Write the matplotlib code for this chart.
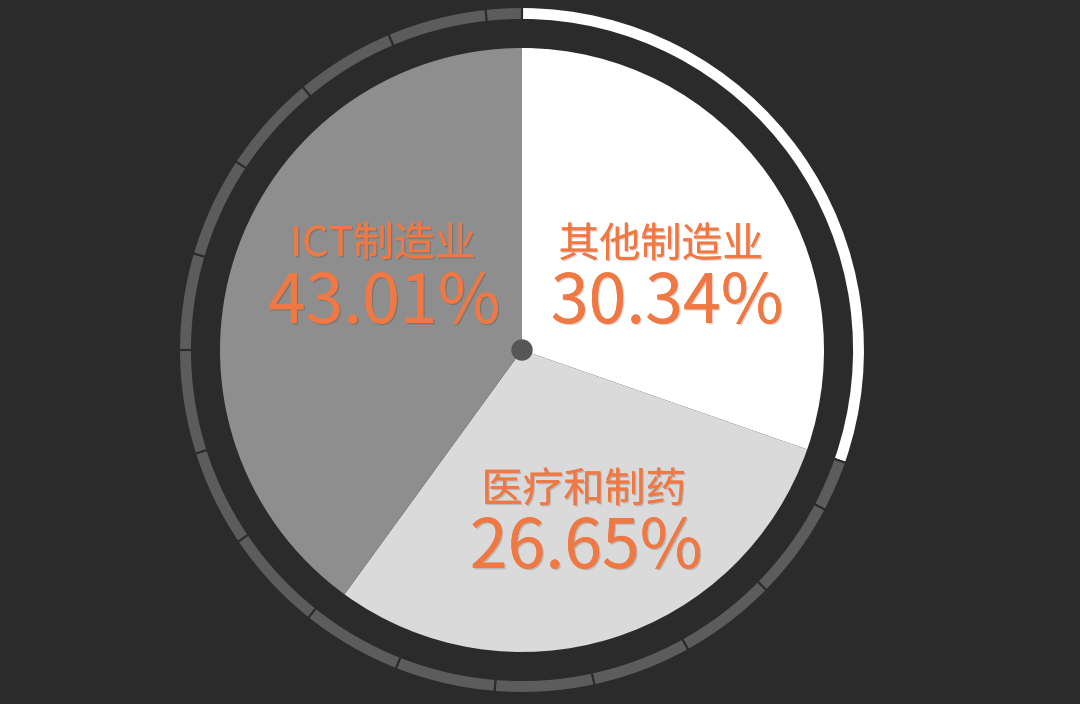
import matplotlib
matplotlib.use("Agg")
import matplotlib.pyplot as plt
import matplotlib.patheffects as pe

plt.rcParams['font.family'] = ['Noto Sans CJK SC', 'DejaVu Sans']

# labels and shares as printed on the chart
names = ['其他制造业', '医疗和制药', 'ICT制造业']
pct_labels = ['30.34%', '26.65%', '43.01%']
# slice sizes as drawn in the picture (clockwise from 12 o'clock)
drawn_share = [30.34, 29.66, 40.0]
slice_colors = ['#ffffff', '#dadada', '#8e8e8e']

# outer ring: white progress arc, then grey segments split at these angles (deg, clockwise from top)
progress = 30.34
ring_gaps = [117.8, 134.5, 151.0, 167.8, 184.6, 201.6, 218.6, 236.0,
             252.4, 270.0, 286.4, 303.4, 320.2, 337.1, 353.9, 360.0]

bg = '#2b2b2b'
orange = '#ef7843'
cx, cy = 522, 354

fig = plt.figure(figsize=(10.8, 7.04), dpi=100, facecolor=bg)
ax = fig.add_axes([0, 0, 1, 1])
ax.set_facecolor(bg)

# ring segments
start = progress * 3.6
bounds = [start] + ring_gaps
ring_sizes = [progress * 3.6] + [b - a for a, b in zip(bounds[:-1], bounds[1:])]
ring_colors = ['#ffffff'] + ['#5c5c5c'] * (len(ring_sizes) - 1)
ax.pie(ring_sizes, colors=ring_colors, radius=343, center=(cx, cy),
       startangle=90, counterclock=False,
       wedgeprops=dict(width=13, edgecolor=bg, linewidth=1.5))

# main pie
ax.pie(drawn_share, colors=slice_colors, radius=302, center=(cx, cy),
       startangle=90, counterclock=False,
       wedgeprops=dict(linewidth=0))

# centre dot
ax.add_patch(plt.Circle((cx, cy), 10, color='#565656', zorder=5))

shadow = [pe.withSimplePatchShadow(offset=(1, -1), shadow_rgbFace='k', alpha=0.15), pe.Normal()]
# label anchors (x, baseline y) in pixels, y up
name_pos = [(661, 447), (584, 202), (383, 448)]
pct_pos = [(667, 381), (586, 136), (384, 381)]
for n, p, (nx, ny), (px, py) in zip(names, pct_labels, name_pos, pct_pos):
    ax.text(nx, ny, n, color=orange, fontsize=29.5, fontweight='light',
            ha='center', va='baseline', path_effects=shadow, zorder=6)
    ax.text(px, py, p, color=orange, fontsize=49, fontweight='light',
            ha='center', va='baseline', path_effects=shadow, zorder=6)

ax.set_xlim(0, 1080)
ax.set_ylim(0, 704)
ax.set_aspect('equal')
ax.axis('off')

fig.savefig('out.png', dpi=100, facecolor=bg)
